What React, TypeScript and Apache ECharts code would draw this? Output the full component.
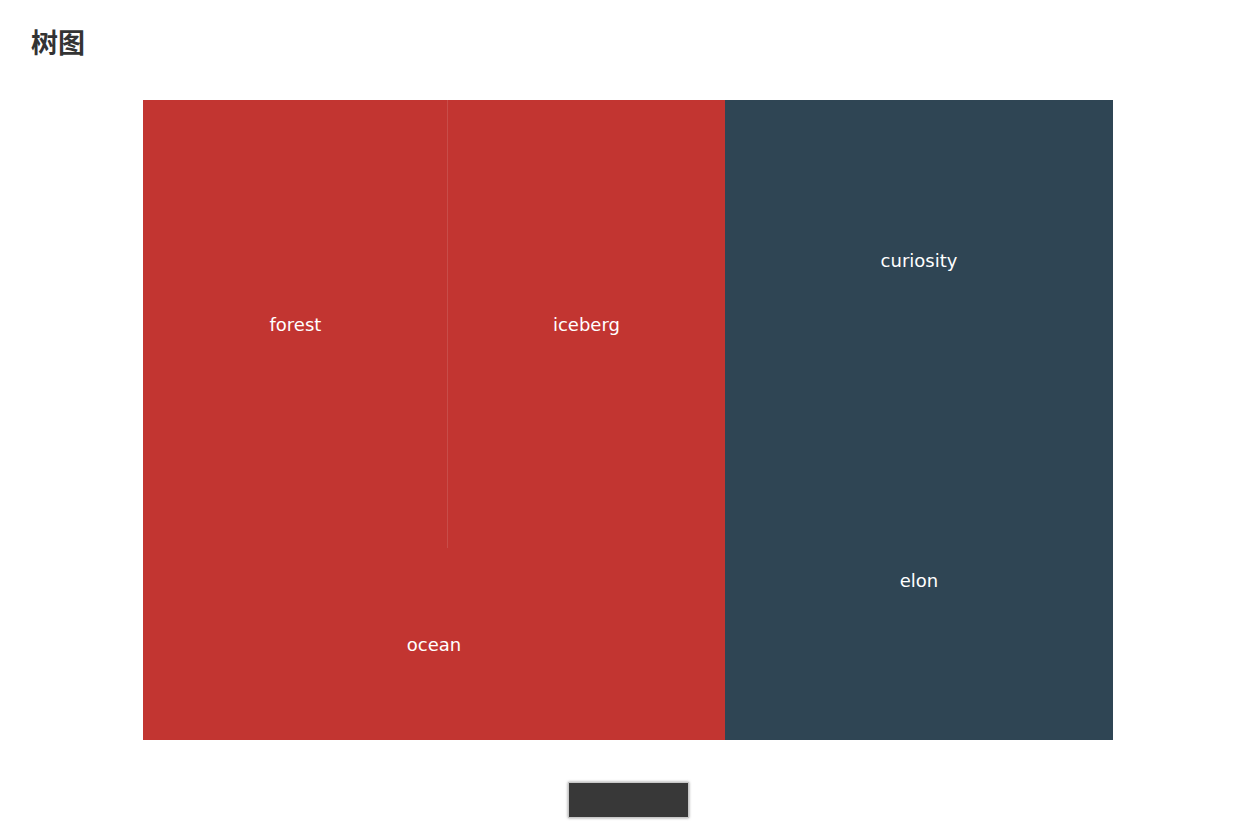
import React, { useEffect, useRef } from "react";
import * as echarts from "echarts";

const groupNames = ["red", "dark"];
const groupColors = ["#c23531", "#2f4554"];
const redLeaves = ["forest", "iceberg", "ocean"];
const redValues = [11, 10, 9];
const darkLeaves = ["elon", "curiosity"];
const darkValues = [10, 10];

export default function App() {
  const ref = useRef<HTMLDivElement>(null);
  useEffect(() => {
    if (!ref.current) return;
    const chart = echarts.init(ref.current, undefined, { renderer: "svg" });
    const data = [
      {
        name: groupNames[0],
        itemStyle: { color: groupColors[0] },
        children: redLeaves.map((n, i) => ({ name: n, value: redValues[i] })),
      },
      {
        name: groupNames[1],
        itemStyle: { color: groupColors[1] },
        children: darkLeaves.map((n, i) => ({ name: n, value: darkValues[i] })),
      },
    ];
    chart.setOption({
      animation: false,
      title: {
        text: "树图",
        left: 18,
        top: 15,
        textStyle: { fontSize: 27, fontWeight: "bold", color: "#333", fontFamily: "Noto Sans CJK SC" },
      },
      series: [
        {
          type: "treemap",
          left: 135,
          top: 92,
          width: 970,
          height: 640,
          roam: false,
          nodeClick: false,
          squareRatio: 0.5 * (1 + Math.sqrt(5)),
          label: {
            show: true,
            position: "inside",
            color: "#fff",
            fontSize: 18,
            fontFamily: "DejaVu Sans",
            align: "center",
            verticalAlign: "middle",
            formatter: "{b}",
          },
          upperLabel: { show: false },
          itemStyle: { borderWidth: 0, gapWidth: 0, borderColor: "rgba(255,255,255,0.3)" },
          levels: [
            { itemStyle: { borderWidth: 0, gapWidth: 0 } },
            { itemStyle: { borderWidth: 0, gapWidth: 0 } },
          ],
          breadcrumb: {
            show: true,
            left: 560,
            bottom: 14,
            height: 35,
            emptyItemWidth: 120,
            itemStyle: {
              color: "#383838",
              borderColor: "rgba(200,200,200,1)",
              borderWidth: 1,
              shadowColor: "rgba(150,150,150,1)",
              shadowBlur: 3,
            },
          },
          data,
        },
      ],
    });
    return () => chart.dispose();
  }, []);
  return <div ref={ref} style={{ width: 1238, height: 824 }} />;
}
